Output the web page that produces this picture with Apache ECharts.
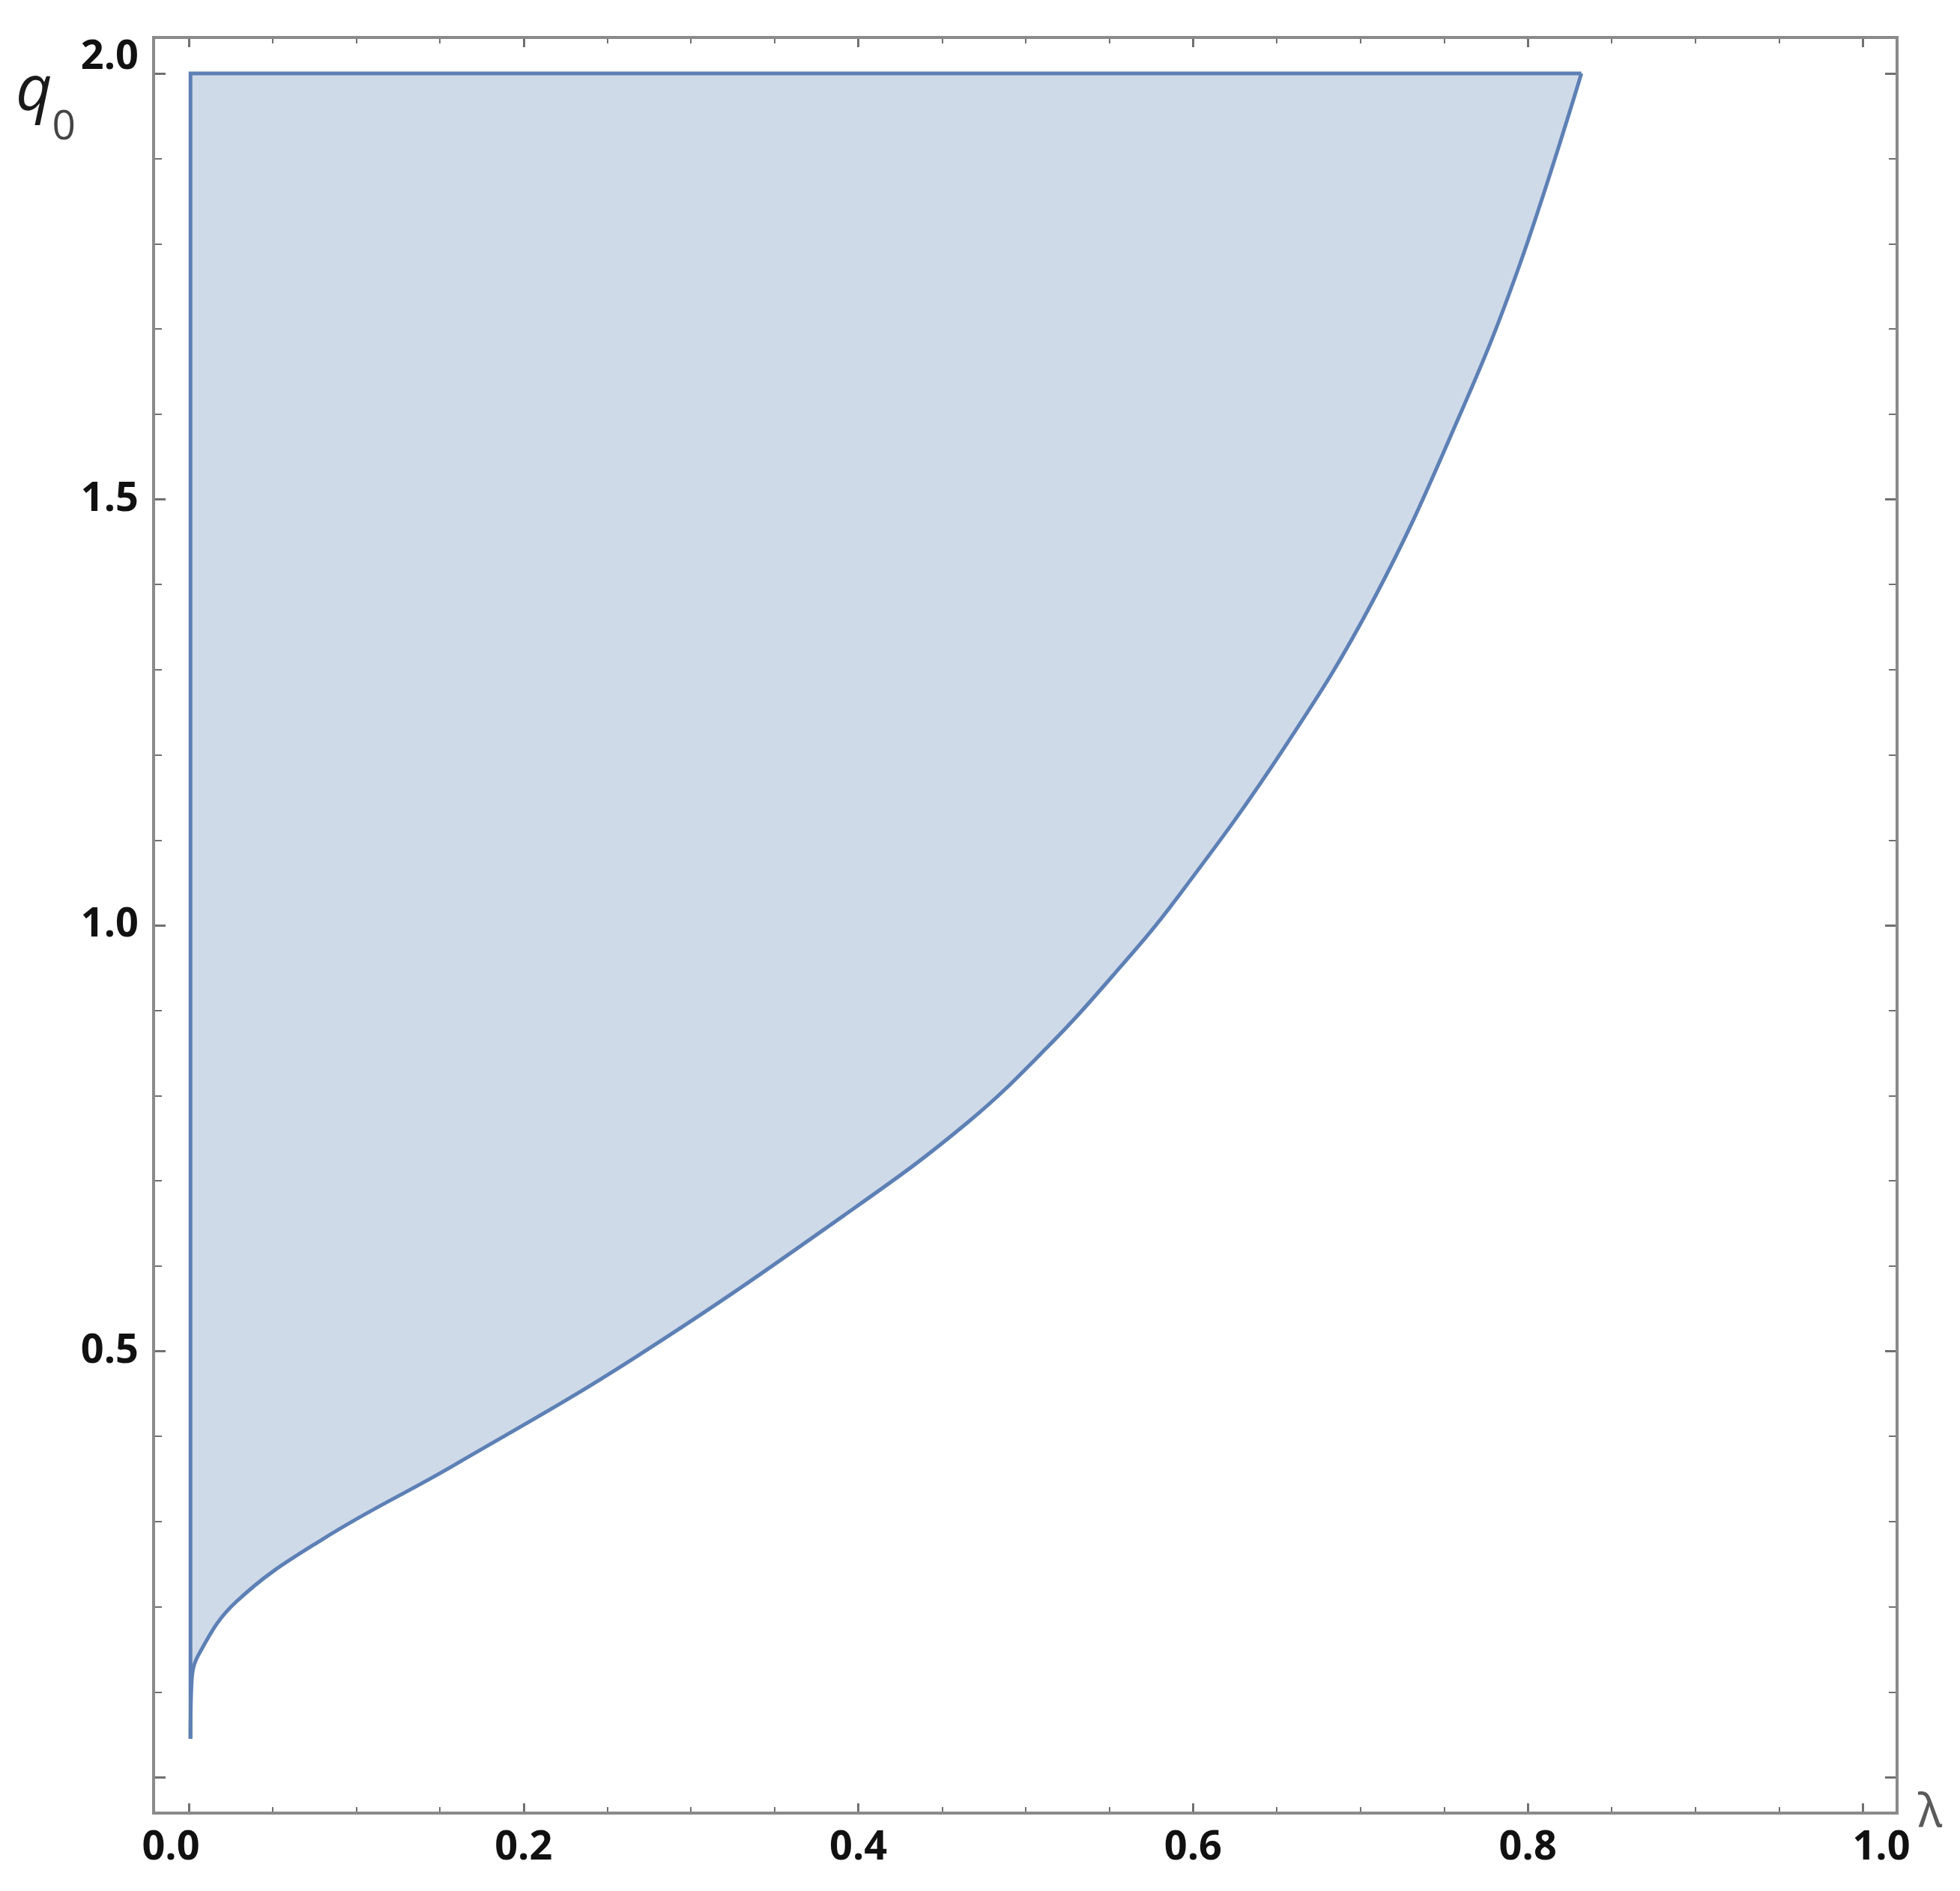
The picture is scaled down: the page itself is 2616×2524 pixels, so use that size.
<!DOCTYPE html>
<html>
<head>
<meta charset="utf-8">
<script src="https://cdn.jsdelivr.net/npm/echarts@6/dist/echarts.min.js"></script>
<style>
html, body { margin: 0; padding: 0; background: #fff; }
#chart { width: 2616px; height: 2524px; }
</style>
</head>
<body>
<div id="chart"></div>
<script>
// right boundary of the shaded region (lambda, q0),
// from the top-right corner down to the cusp near lambda = 0
var lambdaVals = [0.832, 0.7945, 0.7587, 0.708, 0.654, 0.590, 0.553, 0.512, 0.465, 0.3976,
                  0.2677, 0.1583, 0.0797, 0.0284, 0.0062, 0.0017, 0.001];
var q0Vals     = [2.0, 1.772, 1.596, 1.383, 1.207, 1.031, 0.943, 0.855, 0.768, 0.668,
                  0.494, 0.366, 0.279, 0.206, 0.145, 0.112, 0.045];
// left edge of the region and its top
var leftEdge = 0.001;
var qTop = 2.0;

var xTicks = [0, 0.2, 0.4, 0.6, 0.8, 1.0];
var yTicks = [0, 0.5, 1.0, 1.5, 2.0];

var labelFont = {
    fontFamily: "'Open Sans', 'Noto Sans', sans-serif",
    fontWeight: 'bold',
    fontSize: 54,
    color: '#111'
};
var tickColor = '#707070';
var lineColor = '#5d80b5';

function frameAxis(position, offset, interval, minorSplit, withLabels) {
    var isX = position === 'bottom' || position === 'top';
    var ticks = isX ? xTicks : yTicks;
    return {
        type: 'value',
        position: position,
        offset: offset,
        min: ticks[0],
        max: ticks[ticks.length - 1],
        interval: interval,
        nameMoveOverlap: false,
        axisLine: { show: false, onZero: false },
        splitLine: { show: false },
        axisTick: { show: true, inside: true, length: isX ? 13 : 16, lineStyle: { color: tickColor, width: 3 } },
        minorTick: { show: true, splitNumber: minorSplit, length: isX ? 8 : 11, lineStyle: { color: tickColor, width: 2 } },
        axisLabel: withLabels ? Object.assign({
            show: true,
            margin: 20,
            formatter: function (v) {
                if (isX) {
                    if (v === 0) return '{l|0.0}';
                    if (v === 1) return '{r|1.0}';
                    return v.toFixed(1);
                }
                if (v === 0) return '';
                if (v === 2) return '{t|2.0}';
                return v.toFixed(1);
            },
            rich: {
                l: Object.assign({ padding: [0, 48, 0, 0] }, labelFont),
                r: Object.assign({ padding: [0, 0, 0, 50] }, labelFont),
                t: Object.assign({ padding: [0, 0, 42, 0] }, labelFont)
            }
        }, labelFont) : { show: false }
    };
}

var xBottom = frameAxis('bottom', 48, 0.2, 4, true);
xBottom.name = 'λ';
xBottom.nameLocation = 'end';
xBottom.nameGap = 74;
xBottom.nameTextStyle = {
    fontFamily: "'Noto Sans', 'DejaVu Sans', sans-serif",
    fontSize: 62,
    color: '#5a5a5a',
    align: 'left',
    verticalAlign: 'middle',
    padding: [0, 0, 130, 0]
};

var yLeft = frameAxis('left', 47, 0.5, 5, true);
yLeft.name = '{q|q}{s|0}';
yLeft.nameLocation = 'end';
yLeft.nameGap = 17;
yLeft.nameTextStyle = {
    align: 'right',
    verticalAlign: 'top',
    padding: [0, 104, 0, 0],
    rich: {
        q: { fontFamily: "'Open Sans', 'Noto Sans', sans-serif", fontSize: 84, fontStyle: 'italic', color: '#1a1a1a', verticalAlign: 'top' },
        s: { fontFamily: "'Open Sans', 'Noto Sans', sans-serif", fontSize: 55, color: '#444', verticalAlign: 'top', padding: [62, 0, 0, 0] }
    }
};

var curveData = lambdaVals.map(function (l, i) { return [l, q0Vals[i]]; });
var edgeData = [[leftEdge, q0Vals[q0Vals.length - 1]], [leftEdge, qTop], [lambdaVals[0], qTop]];

var chart = echarts.init(document.getElementById('chart'));
var option = {
    animation: false,
    backgroundColor: '#fff',
    grid: { left: 252, right: 130, top: 98, bottom: 152, containLabel: false, outerBoundsMode: 'none' },
    xAxis: [xBottom, frameAxis('top', 48, 0.2, 4, false)],
    yAxis: [yLeft, frameAxis('right', 46, 0.5, 5, false)],
    graphic: [{
        type: 'rect',
        shape: { x: 205, y: 50, width: 2327, height: 2370 },
        style: { fill: null, stroke: '#8a8a8a', lineWidth: 4 },
        silent: true,
        z: 100
    }],
    series: [{
        // curved boundary, shaded up to q0 = 2
        type: 'line',
        data: curveData,
        smooth: 0.4,
        symbol: 'none',
        clip: false,
        lineStyle: { color: lineColor, width: 5 },
        areaStyle: { origin: 'end', color: '#cfdae9', opacity: 1 },
        z: 2
    }, {
        // straight left and top edges
        type: 'line',
        data: edgeData,
        symbol: 'none',
        clip: false,
        lineStyle: { color: lineColor, width: 5, join: 'miter' },
        z: 3
    }]
};
chart.setOption(option);
</script>
</body>
</html>
